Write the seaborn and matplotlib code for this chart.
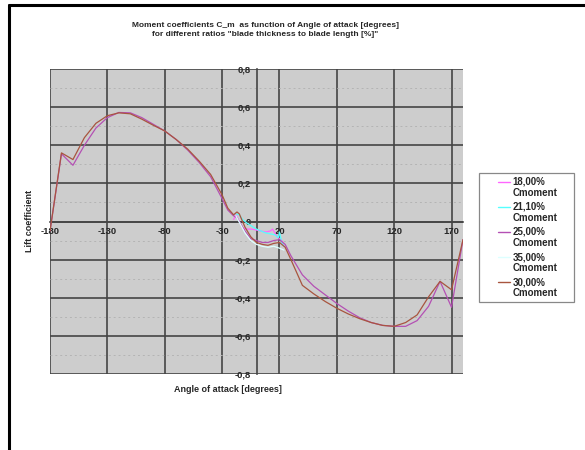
import matplotlib
matplotlib.use("Agg")
import matplotlib.pyplot as plt
from matplotlib.lines import Line2D
from matplotlib.patches import Rectangle
from matplotlib.ticker import FuncFormatter, FixedLocator
import seaborn as sns
import pandas as pd
import numpy as np

sns.set_style("white")
plt.rcParams['font.family'] = ['Liberation Sans', 'DejaVu Sans']
plt.rcParams['axes.unicode_minus'] = False

# ---------------- data ----------------
series_names = ["18,00%\nCmoment", "21,10%\nCmoment", "25,00%\nCmoment",
                "35,00%\nCmoment", "30,00%\nCmoment"]
series_colors = ["#FF66FF", "#55FFFF", "#B450B4", "#DDFFFF", "#A8553F"]

x_main = [-180, -170, -160, -150, -140, -130, -120, -110, -100, -90, -80, -70,
          -60, -50, -40, -30, -25, -20, -17, -15, -10, -5, 0, 5, 10, 15, 20,
          25, 30, 40, 50, 60, 70, 80, 90, 100, 110, 120, 130, 140, 150, 160,
          170, 180]

cm_30 = [-0.05, 0.36, 0.325, 0.44, 0.515, 0.555, 0.57, 0.565, 0.537, 0.505,
         0.475, 0.43, 0.38, 0.317, 0.247, 0.14, 0.07, 0.035, 0.05, 0.04,
         -0.03, -0.08, -0.11, -0.12, -0.125, -0.115, -0.11, -0.135, -0.2,
         -0.335, -0.38, -0.42, -0.455, -0.485, -0.51, -0.53, -0.545, -0.55,
         -0.53, -0.49, -0.395, -0.314, -0.358, -0.095]

cm_25 = [-0.05, 0.355, 0.295, 0.40, 0.49, 0.545, 0.572, 0.57, 0.545, 0.51,
         0.475, 0.43, 0.375, 0.31, 0.235, 0.12, 0.06, 0.03, 0.02, 0.0,
         -0.05, -0.09, -0.10, -0.11, -0.11, -0.10, -0.095, -0.12, -0.18,
         -0.28, -0.34, -0.385, -0.43, -0.47, -0.505, -0.53, -0.545, -0.55,
         -0.55, -0.52, -0.445, -0.314, -0.45, -0.095]

x_18 = [-20, -18, -15, -12, -8, -4, 0, 4, 8, 12, 14, 16, 18, 20, 22, 24]
cm_18 = [0.01, 0.035, 0.0, -0.035, -0.04, -0.04, -0.045, -0.05, -0.055,
         -0.05, -0.04, -0.06, -0.08, -0.09, -0.10, -0.13]

x_21 = [-18, -15, -12, -8, -4, 0, 4, 8, 12, 16, 19, 20, 22, 24]
cm_21 = [0.04, 0.035, 0.01, -0.01, -0.025, -0.04, -0.05, -0.06, -0.065,
         -0.07, -0.085, -0.055, -0.11, -0.13]

x_35 = [-18, -10, -5, 0, 5, 10, 15, 20, 24]
cm_35 = [0.03, -0.06, -0.10, -0.12, -0.13, -0.135, -0.13, -0.14, -0.15]

x_ticks = [-180, -130, -80, -30, 20, 70, 120, 170]
y_ticks = [-0.8, -0.6, -0.4, -0.2, 0.0, 0.2, 0.4, 0.6, 0.8]

title_text = ('Moment coefficients C_m  as function of Angle of attack [degrees]\n'
              'for different ratios "blade thickness to blade length [%]"')
x_label = "Angle of attack [degrees]"
y_label = "Lift coefficient"

# ---------------- build frame ----------------
parts = []
for name, xs, ys in [(series_names[0], x_18, cm_18),
                     (series_names[1], x_21, cm_21),
                     (series_names[2], x_main, cm_25),
                     (series_names[3], x_35, cm_35),
                     (series_names[4], x_main, cm_30)]:
    parts.append(pd.DataFrame({"angle": xs, "cm": ys, "series": name}))
df = pd.concat(parts, ignore_index=True)

# ---------------- figure ----------------
W, H = 585, 450
fig = plt.figure(figsize=(5.85, 4.5), dpi=100)
ax = fig.add_axes([50/W, 1 - 374/H, (463-50)/W, (374-69)/H])
ax.set_facecolor("#CDCDCD")

sns.lineplot(data=df, x="angle", y="cm", hue="series", hue_order=series_names,
             palette=dict(zip(series_names, series_colors)), sort=False,
             estimator=None, linewidth=0.9, ax=ax, legend=False, zorder=3)

ax.set_xlim(-180, 180)
ax.set_ylim(-0.8, 0.8)
ax.xaxis.set_major_locator(FixedLocator(x_ticks))
ax.yaxis.set_major_locator(FixedLocator(y_ticks))
ax.yaxis.set_minor_locator(FixedLocator([v + 0.1 for v in y_ticks[:-1]]))

def yfmt(v, pos):
    if abs(v) < 1e-9:
        return "0"
    return ("%.1f" % v).replace(".", ",")
ax.yaxis.set_major_formatter(FuncFormatter(yfmt))
ax.xaxis.set_major_formatter(FuncFormatter(lambda v, p: "%d" % v))

ax.grid(True, which="major", color="#454545", linewidth=1.2, zorder=1)
ax.grid(True, which="minor", axis="y", color="#B4B4B4", linewidth=0.7,
        linestyle=(0, (2, 3)), zorder=1)
ax.set_axisbelow(True)

for s in ["top", "right"]:
    ax.spines[s].set_visible(False)
ax.spines["left"].set_position(("data", 0))
ax.spines["bottom"].set_position(("data", 0))
for s in ["left", "bottom"]:
    ax.spines[s].set_color("#454545")
    ax.spines[s].set_linewidth(1.2)

ax.tick_params(axis="both", which="major", direction="inout", length=4,
               color="#454545", labelsize=6.8, pad=2)
ax.tick_params(axis="y", which="minor", length=0)
for lab in ax.get_xticklabels() + ax.get_yticklabels():
    lab.set_fontweight("bold")
ax.set_xlabel("")
ax.set_ylabel("")

fig.text(265/W, 1 - 30/H, title_text, ha="center", va="center",
         fontsize=6, fontweight="bold", linespacing=1.3)
fig.text(228/W, 1 - 390/H, x_label, ha="center", va="center",
         fontsize=6.5, fontweight="bold")
fig.text(30/W, 1 - 221/H, y_label, ha="center", va="center",
         fontsize=6.5, fontweight="bold", rotation=90)

# legend (Excel style: handle aligned with the first label line)
fig.add_artist(Rectangle((479/W, 1 - 302/H), (574-479)/W, (302-173)/H,
                         transform=fig.transFigure, facecolor="white",
                         edgecolor="#888888", linewidth=0.9, zorder=4))
for i, (name, col) in enumerate(zip(series_names, series_colors)):
    y1 = 181.5 + 25.2 * i
    fig.add_artist(Line2D([498/W, 510/W], [1 - y1/H, 1 - y1/H], color=col,
                          linewidth=1.0, transform=fig.transFigure, zorder=5))
    l1, l2 = name.split("\n")
    fig.text(512.5/W, 1 - y1/H, l1, ha="left", va="center", fontsize=7,
             fontweight="bold", zorder=6)
    fig.text(512.5/W, 1 - (y1 + 11)/H, l2, ha="left", va="center", fontsize=7,
             fontweight="bold", zorder=6)

# outer border (left and top)
fig.add_artist(Line2D([9/W, 9/W], [0, 1 - 5/H], color="black",
                      linewidth=2.2, transform=fig.transFigure))
fig.add_artist(Line2D([9/W, 1], [1 - 5/H, 1 - 5/H], color="black",
                      linewidth=2.2, transform=fig.transFigure))

fig.savefig("out.png", dpi=100)
